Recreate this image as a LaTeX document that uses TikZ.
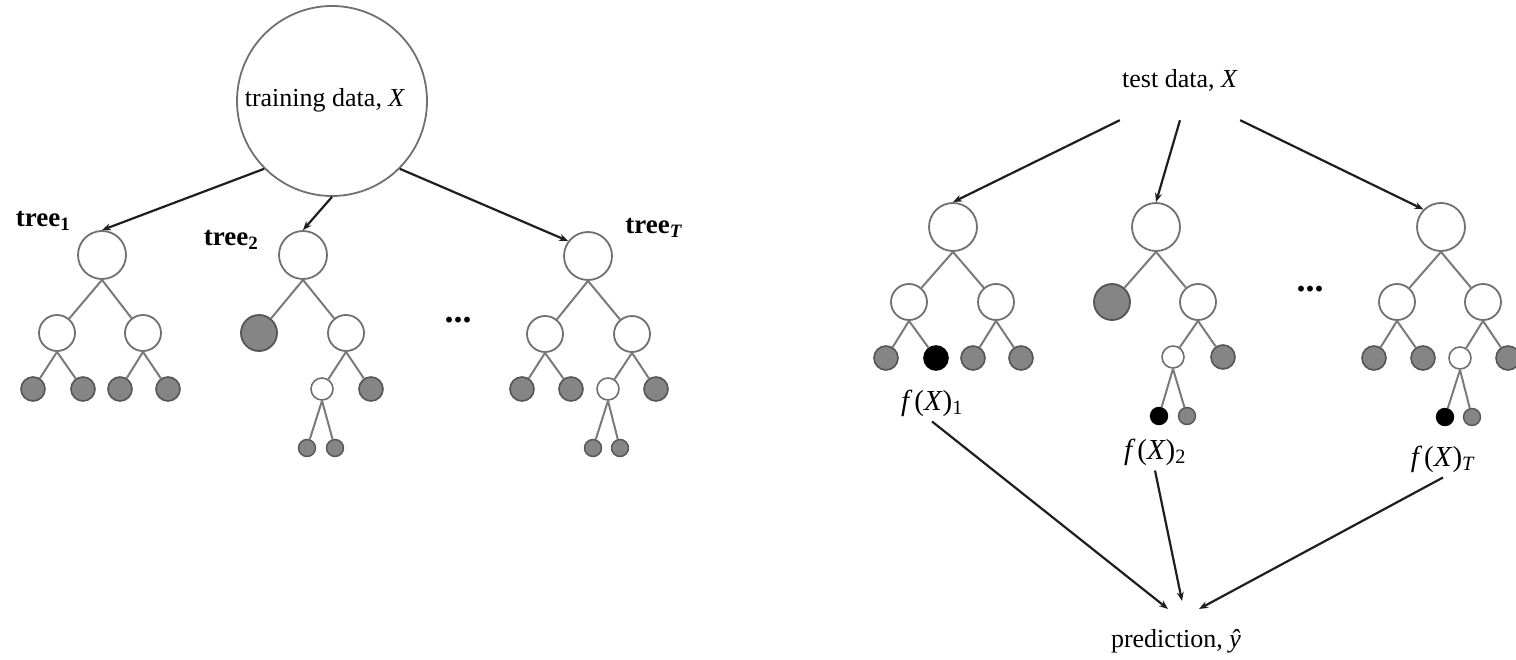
\documentclass[tikz,border=0pt]{standalone}
\usepackage{fontspec}
\setmainfont{Liberation Serif}
\usetikzlibrary{arrows.meta}

\definecolor{ringgray}{HTML}{707070}
\definecolor{edgegray}{HTML}{7A7A7A}
\definecolor{leafgray}{HTML}{858585}
\definecolor{leafedge}{HTML}{555555}
\definecolor{arrowink}{HTML}{1E1E1E}

% output of a single tree in the test ensemble
\newcommand{\treeout}[1]{\textit{f}\kern2pt(\textit{X})\textsubscript{#1}}

\tikzset{
  txt/.style={inner sep=0pt, font=\fontsize{26}{30}\selectfont},
  treelabel/.style={inner sep=0pt, font=\fontsize{27}{30}\selectfont\bfseries},
  flabel/.style={inner sep=5pt, font=\fontsize{29}{32}\selectfont},
  dotslabel/.style={inner sep=0pt, font=\fontsize{36}{40}\selectfont\bfseries},
  bigring/.style={circle, draw=ringgray, line width=1.8pt, fill=white, minimum size=190pt, inner sep=0pt},
  rootnode/.style={circle, draw=ringgray, line width=1.8pt, fill=white, minimum size=48pt, inner sep=0pt},
  midnode/.style={circle, draw=ringgray, line width=1.8pt, fill=white, minimum size=36pt, inner sep=0pt},
  smallnode/.style={circle, draw=ringgray, line width=1.6pt, fill=white, minimum size=22pt, inner sep=0pt},
  bigleaf/.style={circle, draw=leafedge, line width=1.8pt, fill=leafgray, minimum size=36pt, inner sep=0pt},
  leaf/.style={circle, draw=leafedge, line width=1.6pt, fill=leafgray, minimum size=24pt, inner sep=0pt},
  hitleaf/.style={circle, draw=black, line width=1.6pt, fill=black, minimum size=24pt, inner sep=0pt},
  tinyleaf/.style={circle, draw=leafedge, line width=1.4pt, fill=leafgray, minimum size=17pt, inner sep=0pt},
  tinyhit/.style={circle, draw=black, line width=1.4pt, fill=black, minimum size=17pt, inner sep=0pt},
  edge/.style={draw=edgegray, line width=2pt},
  arr/.style={draw=arrowink, line width=2.2pt, -{Stealth[length=9pt,width=7pt]}},
}

\begin{document}
\begin{tikzpicture}[x=1pt,y=-1pt]
\useasboundingbox (0,0) rectangle (1516,660);

% ---------------- training side ----------------
\node[bigring] (train) at (332,101) {};
\node[txt] (traintxt) at (325,100) {training data, \textit{X}};

% tree 1
\node[rootnode] (t1r) at (102,255) {};
\node[midnode] (t1a) at (57,333) {};
\node[midnode] (t1b) at (143,333) {};
\node[leaf] (t1aa) at (33,389) {};
\node[leaf] (t1ab) at (83,389) {};
\node[leaf] (t1ba) at (120,389) {};
\node[leaf] (t1bb) at (168,389) {};
\foreach \p/\c in {t1r/t1a, t1r/t1b, t1a/t1aa, t1a/t1ab, t1b/t1ba, t1b/t1bb}
  \draw[edge] (\p.south) -- (\c);

% tree 2
\node[rootnode] (t2r) at (303,255) {};
\node[bigleaf] (t2a) at (259,333) {};
\node[midnode] (t2b) at (346,333) {};
\node[smallnode] (t2ba) at (322,389) {};
\node[leaf] (t2bb) at (371,389) {};
\node[tinyleaf] (t2baa) at (307,448) {};
\node[tinyleaf] (t2bab) at (335,448) {};
\foreach \p/\c in {t2r/t2a, t2r/t2b, t2b/t2ba, t2b/t2bb, t2ba/t2baa, t2ba/t2bab}
  \draw[edge] (\p.south) -- (\c);

% tree T
\node[rootnode] (tTr) at (588,256) {};
\node[midnode] (tTa) at (545,334) {};
\node[midnode] (tTb) at (632,334) {};
\node[leaf] (tTaa) at (522,389) {};
\node[leaf] (tTab) at (571,389) {};
\node[smallnode] (tTba) at (608,389) {};
\node[leaf] (tTbb) at (656,389) {};
\node[tinyleaf] (tTbaa) at (593,448) {};
\node[tinyleaf] (tTbab) at (620,448) {};
\foreach \p/\c in {tTr/tTa, tTr/tTb, tTa/tTaa, tTa/tTab, tTb/tTba, tTb/tTbb, tTba/tTbaa, tTba/tTbab}
  \draw[edge] (\p.south) -- (\c);

\node[treelabel] (lab1) at (43,221) {tree\textsubscript{1}};
\node[treelabel] (lab2) at (231,240) {tree\textsubscript{2}};
\node[treelabel] (labT) at (654,228) {tree\textsubscript{\textit{T}}};
\node[dotslabel] (ldots) at (458,320) {...};

\draw[arr] (train.225) -- (t1r.north);
\draw[arr] (train.south) -- (t2r.north);
\draw[arr] (train.315) -- (tTr.143);

% ---------------- test side ----------------
\node[txt, minimum width=120pt, minimum height=80pt] (test) at (1180,80) {test data, \textit{X}};

% tree A
\node[rootnode] (ar) at (953,227) {};
\node[midnode] (aa) at (909,302) {};
\node[midnode] (ab) at (996,302) {};
\node[leaf] (aaa) at (886,358) {};
\node[hitleaf] (aab) at (936,358) {};
\node[leaf] (aba) at (973,358) {};
\node[leaf] (abb) at (1021,358) {};
\foreach \p/\c in {ar/aa, ar/ab, aa/aaa, aa/aab, ab/aba, ab/abb}
  \draw[edge] (\p.south) -- (\c);

% tree B
\node[rootnode] (br) at (1156,227) {};
\node[bigleaf] (ba) at (1112,302) {};
\node[midnode] (bb) at (1198,302) {};
\node[smallnode] (bba) at (1173,357) {};
\node[leaf] (bbb) at (1223,357) {};
\node[tinyhit] (bbaa) at (1159,416) {};
\node[tinyleaf] (bbab) at (1187,416) {};
\foreach \p/\c in {br/ba, br/bb, bb/bba, bb/bbb, bba/bbaa, bba/bbab}
  \draw[edge] (\p.south) -- (\c);

% tree C
\node[rootnode] (cr) at (1441,227) {};
\node[midnode] (ca) at (1397,302) {};
\node[midnode] (cb) at (1483,302) {};
\node[leaf] (caa) at (1374,358) {};
\node[leaf] (cab) at (1423,358) {};
\node[smallnode] (cba) at (1460,358) {};
\node[leaf] (cbb) at (1508,358) {};
\node[tinyhit] (cbaa) at (1445,417) {};
\node[tinyleaf] (cbab) at (1472,417) {};
\foreach \p/\c in {cr/ca, cr/cb, ca/caa, ca/cab, cb/cba, cb/cbb, cba/cbaa, cba/cbab}
  \draw[edge] (\p.south) -- (\c);

\node[dotslabel] (rdots) at (1310,289) {...};

\draw[arr] (test.south west) -- (ar.north);
\draw[arr] (test.south) -- (br.north);
\draw[arr] (test.south east) -- (cr.135);

\node[flabel] (f1) at (932,403) {\treeout{1}};
\node[flabel] (f2) at (1155,452) {\treeout{2}};
\node[flabel] (fT) at (1443,459) {\treeout{\textit{T}}};

\node[txt] (pred) at (1176,641) {prediction, \textit{ŷ}};

\draw[arr] (f1.south) -- ([xshift=-8pt,yshift=20pt]pred.north);
\draw[arr] (f2.south) -- ([xshift=6pt,yshift=28pt]pred.north);
\draw[arr] (fT.south) -- ([xshift=23pt,yshift=20pt]pred.north);
\end{tikzpicture}
\end{document}
